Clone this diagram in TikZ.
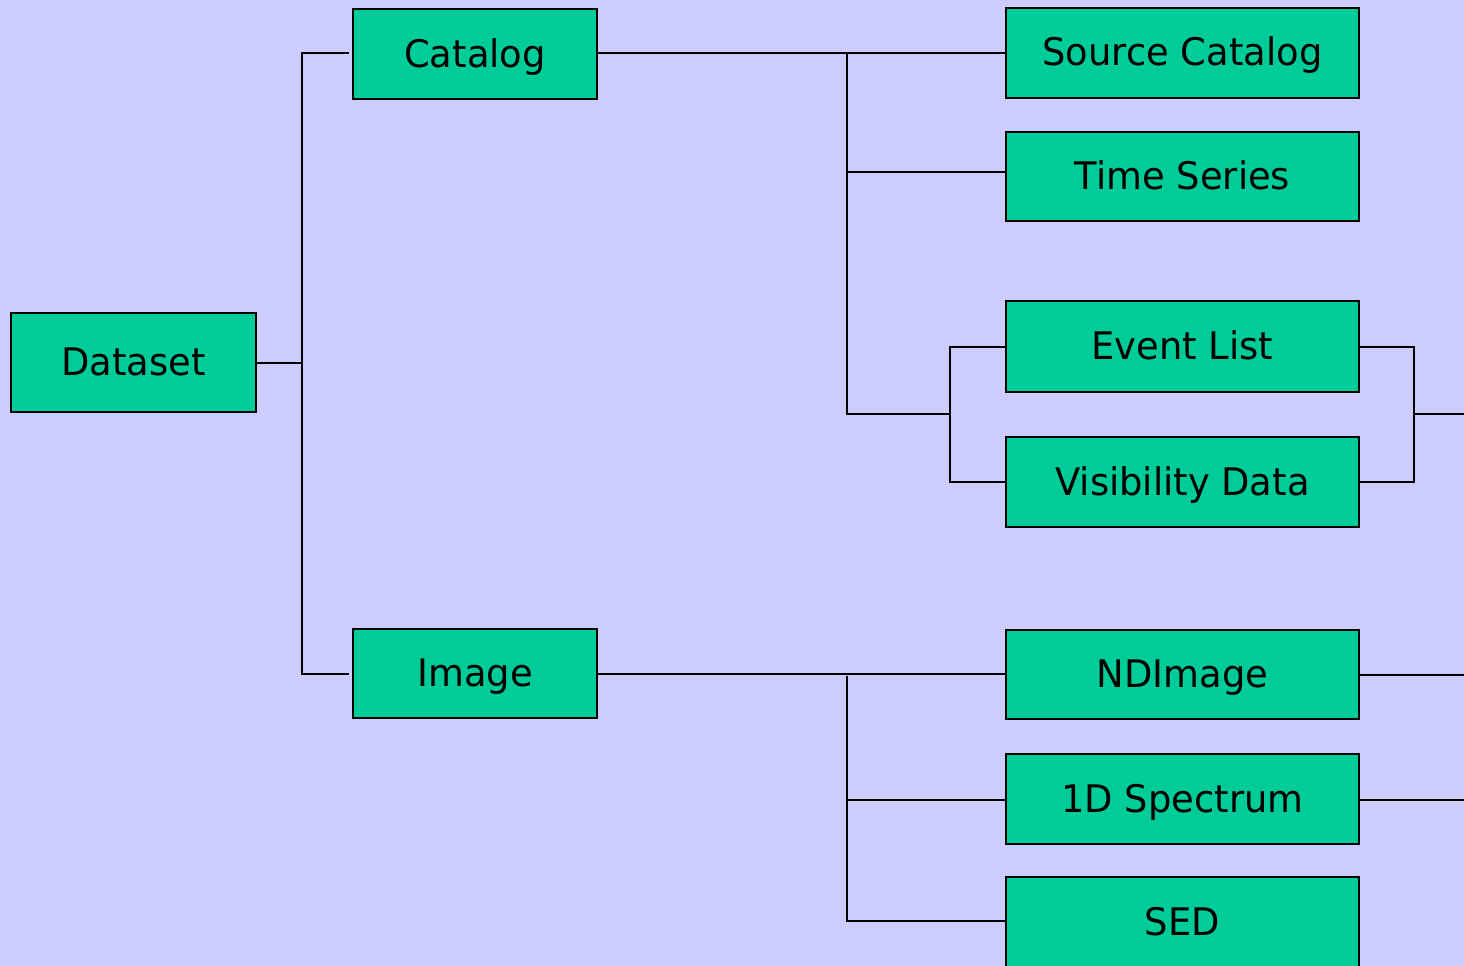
\documentclass[tikz,border=0pt]{standalone}
\usepackage{fontspec}
\setmainfont{DejaVu Sans}[FakeStretch=0.97]
\definecolor{bgc}{HTML}{CCCCFF}
\definecolor{boxc}{HTML}{00CC99}
\begin{document}
\begin{tikzpicture}[x=1pt,y=-1pt,
  box/.style={draw=black,fill=boxc,line width=2pt,inner sep=0pt,anchor=center,
    text height=26pt,text depth=0pt,
    font=\fontsize{38}{46}\selectfont},
  conn/.style={draw=black,line width=2pt}]
\useasboundingbox (0,0) rectangle (1464,966);
\clip (0,0) rectangle (1464,966);
\fill[bgc] (0,0) rectangle (1464,966);
% left column
\node[box,minimum width=245pt,minimum height=99pt] (Dataset) at (133.5,362.5) {Dataset};
\node[box,minimum width=244pt,minimum height=89pt] (Catalog) at (475,54) {Catalog};
\node[box,minimum width=244pt,minimum height=89pt] (Image) at (475,673.5) {Image};
% right column
\node[box,minimum width=353pt,minimum height=90pt] (SourceCatalog) at (1182.5,53) {Source Catalog};
\node[box,minimum width=353pt,minimum height=89pt] (TimeSeries) at (1182.5,176.5) {Time Series};
\node[box,minimum width=353pt,minimum height=91pt] (EventList) at (1182.5,346.5) {Event List};
\node[box,minimum width=353pt,minimum height=90pt] (Visibility) at (1182.5,482) {Visibility Data};
\node[box,minimum width=353pt,minimum height=89pt] (NDImage) at (1182.5,674.5) {NDImage};
\node[box,minimum width=353pt,minimum height=90pt] (Spectrum) at (1182.5,799) {1D Spectrum};
\node[box,minimum width=353pt,minimum height=90pt] (SED) at (1182.5,922) {SED};
% junction coordinates
\coordinate (a0) at (302,362.5);
\coordinate (a1) at (302,53);
\coordinate (a2) at (302,674);
\coordinate (b1) at (847,53);
\coordinate (b2) at (847,172);
\coordinate (b3) at (847,414);
\coordinate (c0) at (950,414);
\coordinate (c1) at (950,347);
\coordinate (c2) at (950,482);
\coordinate (d1) at (1414,347);
\coordinate (d2) at (1414,482);
\coordinate (d0) at (1414,414);
\coordinate (dout) at (1464,414);
\coordinate (e1) at (847,676);
\coordinate (e2) at (847,800);
\coordinate (e3) at (847,921);
\coordinate (nout) at (1464,674.5);
\coordinate (sout) at (1464,800);
% connectors
\draw[conn] (Dataset.east) -- (a0);
\draw[conn] ([xshift=-3pt]Catalog.west |- a1) -- (a1) -- (a2) -- ([xshift=-3pt]Image.west |- a2);
\draw[conn] (Catalog.east |- b1) -- (SourceCatalog.west |- b1);
\draw[conn] (b1) -- (b3) -- (c0);
\draw[conn] (b2) -- (TimeSeries.west |- b2);
\draw[conn] (EventList.west |- c1) -- (c1) -- (c2) -- (Visibility.west |- c2);
\draw[conn] (EventList.east |- d1) -- (d1) -- (d2) -- (Visibility.east |- d2);
\draw[conn] (d0) -- (dout);
\draw[conn] (Image.east) -- (Image.east -| NDImage.west);
\draw[conn] (e1) -- (e3) -- (SED.west |- e3);
\draw[conn] (e2) -- (Spectrum.west |- e2);
\draw[conn] (NDImage.east) -- (nout);
\draw[conn] (Spectrum.east |- sout) -- (sout);
\end{tikzpicture}
\end{document}
